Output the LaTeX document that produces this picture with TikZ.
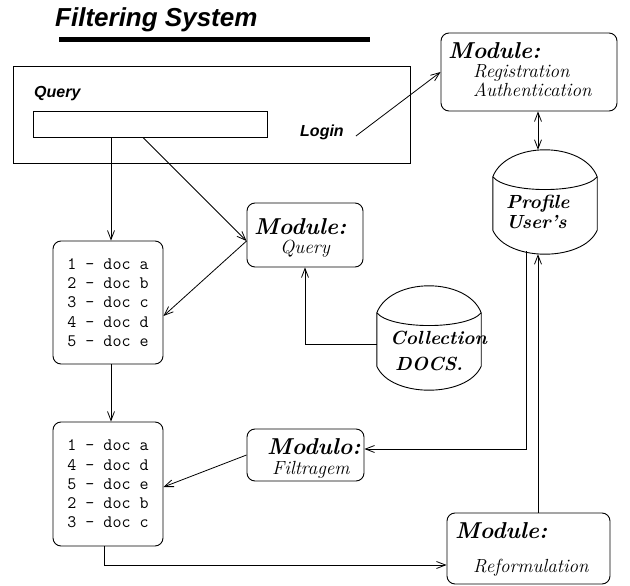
\documentclass[tikz,border=0pt]{standalone}
\usepackage{fontspec}
\newfontfamily\helv{Liberation Sans}
\usetikzlibrary{arrows.meta,calc}

\tikzset{
  arr/.style={-{Straight Barb[length=9pt,width=7pt]}, line width=0.8pt},
  dblarr/.style={{Straight Barb[length=9pt,width=7pt]}-{Straight Barb[length=9pt,width=7pt]}, line width=0.8pt},
  sqbox/.style={draw, line width=0.9pt, inner sep=0pt},
  modbox/.style={draw, rounded corners=8pt, line width=0.9pt, inner sep=0pt},
  docbox/.style={modbox, align=left, minimum width=110pt,
    font=\fontsize{17.5}{19.3}\selectfont\ttfamily},
  dbnode/.style={inner sep=0pt, minimum width=104pt, minimum height=104pt},
  modhead/.style={anchor=base west, inner sep=0pt, font=\fontsize{23}{26}\selectfont\bfseries\itshape},
  modsub/.style={anchor=base west, inner sep=0pt, font=\fontsize{19}{22}\selectfont\itshape},
  dbtext/.style={anchor=base west, inner sep=0pt, font=\fontsize{19}{22}\selectfont\bfseries\itshape},
  sanslbl/.style={anchor=base west, inner sep=0pt, font=\fontsize{16}{18}\selectfont\helv\bfseries\itshape},
}

% drum shape round a dbnode
\newcommand\dbdrum[1]{%
  \draw[line width=0.9pt]
    ($(#1.north west)+(0,27)$) coordinate (#1-a)
    .. controls +(14,-36) and +(-14,-36) .. ($(#1.north east)+(0,27)$) coordinate (#1-b)
    -- ($(#1.south east)+(0,-24)$)
    .. controls +(-14,32) and +(14,32) .. ($(#1.south west)+(0,-24)$)
    -- cycle;
  \draw[line width=0.9pt] (#1-a) .. controls +(14,17) and +(-14,17) .. (#1-b);
}

\begin{document}
\begin{tikzpicture}[x=1pt,y=-1pt]
\useasboundingbox (0,0) rectangle (630,586);

% title
\node[anchor=base west, inner sep=0pt, font=\fontsize{26}{30}\selectfont\helv\bfseries\itshape] (title) at (55,27) {Filtering System};
\draw[line width=5pt] (59,40) -- (370,40);

% query form
\node[sqbox, minimum width=397pt, minimum height=97pt] (form) at (211.5,114.5) {};
\node[sqbox, minimum width=234pt, minimum height=26pt] (qfield) at (150,124) {};
\node[sanslbl] (qlbl) at (34,98) {Query};
\node[sanslbl] (login) at (300,136) {Login};

% modules
\node[modbox, minimum width=176pt, minimum height=78pt] (reg) at (529,72) {};
\node[modhead] (reg-h) at (448,59) {Module:};
\node[modsub] (reg-s1) at (473,78) {Registration};
\node[modsub] (reg-s2) at (473,97) {Authentication};

\node[modbox, minimum width=116pt, minimum height=64pt] (mq) at (305,235) {};
\node[modhead] (mq-h) at (254,234) {Module:};
\node[modsub] (mq-s) at (280,253) {Query};

\node[modbox, minimum width=117pt, minimum height=52pt] (filt) at (305.5,455) {};
\node[modhead] (filt-h) at (267,454) {Modulo:};
\node[modsub] (filt-s) at (272,474) {Filtragem};

\node[modbox, minimum width=163pt, minimum height=71pt] (reform) at (528.5,548.5) {};
\node[modhead] (reform-h) at (455,538) {Module:};
\node[modsub] (reform-s) at (473,572) {Reformulation};

% databases
\node[dbnode] (prof) at (545,202) {};
\dbdrum{prof}
\node[dbtext] (prof-t1) at (506,208) {Profile};
\node[dbtext] (prof-t2) at (506,228) {User's};

\node[dbnode] (coll) at (429,338) {};
\dbdrum{coll}
\node[dbtext] (coll-t1) at (390,344) {Collection};
\node[dbtext] (coll-t2) at (395,370) {DOCS.};

% result lists
\node[docbox, minimum height=123pt] (list1) at (108,302.5)
  {1 - doc a\\2 - doc b\\3 - doc c\\4 - doc d\\5 - doc e};
\node[docbox, minimum height=124pt] (list2) at (108,484)
  {1 - doc a\\4 - doc d\\5 - doc e\\2 - doc b\\3 - doc c};

% connections
\draw[arr] ($(login.base east)+(12,0)$) -- (reg.west);
\draw[dblarr] ([xshift=9pt]reg.south) -- ([xshift=-7pt]prof.north);
\draw[arr] ([xshift=-39pt]qfield.south) -- ([xshift=3pt]list1.north);
\draw[arr] ([xshift=-7pt]qfield.south) -- ([yshift=-6pt]mq.west);
\draw[arr] ([yshift=-6pt]mq.west) -- ([yshift=-13.5pt]list1.east);
\draw[arr] ([yshift=-6pt]coll.west) -| (mq.south);
\draw[arr] ([xshift=3pt]list1.south) -- ([xshift=3pt]list2.north);
\draw[arr] ([xshift=-19pt,yshift=3pt]prof.south) |- ([yshift=6pt]filt.east);
\draw[arr] (filt.west) -- ([yshift=-3pt]list2.east);
\draw[arr] ([xshift=-4pt]list2.south) |- ([yshift=-16.5pt]reform.west);
\draw[arr] ([xshift=9.5pt]reform.north) -- ([xshift=-7pt]prof.south);
\end{tikzpicture}
\end{document}
